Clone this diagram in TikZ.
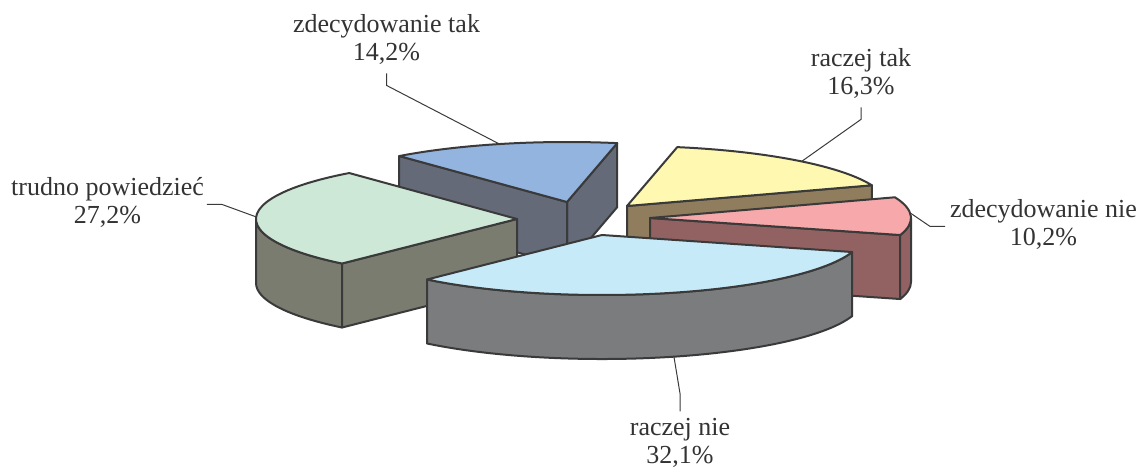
\documentclass[tikz,border=0pt]{standalone}
\usepackage{fontspec}
\setmainfont{Liberation Serif}
\newfontfamily\labelfont{Liberation Serif}
\usetikzlibrary{positioning, calc}

\definecolor{edge}{HTML}{3A3A3A}
\definecolor{labeltext}{HTML}{333333}
\definecolor{bluetop}{HTML}{94B4E0}
\definecolor{blueside}{HTML}{646A78}
\definecolor{yellowtop}{HTML}{FFF8B0}
\definecolor{yellowside}{HTML}{8F7D5E}
\definecolor{greentop}{HTML}{CDE8D6}
\definecolor{greenside}{HTML}{7B7C70}
\definecolor{pinktop}{HTML}{F6A8AA}
\definecolor{pinkside}{HTML}{926263}
\definecolor{skytop}{HTML}{C7EAF9}
\definecolor{skyside}{HTML}{7B7C7E}

\begin{document}
\begin{tikzpicture}[x=0.5pt,y=0.5pt,
    every node/.style={inner sep=0,outer sep=0,text=labeltext,
      font=\labelfont\fontsize{13}{14}\selectfont},
    slice/.style={draw=edge,line width=1pt,line join=round},
    rim/.style={x radius=261,y radius=60},
    leader/.style={draw=edge,line width=0.5pt}]
  \useasboundingbox (0,0) rectangle (1142,467);

  % centres of the slices
  \coordinate (cb) at (567,265);
  \coordinate (cy) at (627,261);
  \coordinate (cg) at (517,248);
  \coordinate (cp) at (650,249);
  \coordinate (cs) at (602,232);

  % zdecydowanie tak
  \draw[slice,fill=blueside] (cb) -- ($(cb)+(78.9:261 and 60)$) -- ++(0,-64) -- ($(cb)+(0,-64)$) -- cycle;
  \draw[slice,fill=blueside] (cb) -- ($(cb)+(130:261 and 60)$) -- ++(0,-64) -- ($(cb)+(0,-64)$) -- cycle;
  \draw[slice,fill=bluetop] (cb) -- ($(cb)+(78.9:261 and 60)$) arc[rim,start angle=78.9,end angle=130] -- cycle;

  % raczej tak
  \draw[slice,fill=yellowside] (cy) -- ($(cy)+(20.2:261 and 60)$) -- ++(0,-64) -- ($(cy)+(0,-64)$) -- cycle;
  \draw[slice,fill=yellowtop] (cy) -- ($(cy)+(20.2:261 and 60)$) arc[rim,start angle=20.2,end angle=78.9] -- cycle;

  % trudno powiedziec
  \draw[slice,fill=greenside] ($(cg)+(180:261 and 60)$) arc[rim,start angle=180,end angle=227.9]
    -- ++(0,-64) arc[rim,start angle=227.9,end angle=180] -- cycle;
  \draw[slice,fill=greenside] (cg) -- ($(cg)+(227.9:261 and 60)$) -- ++(0,-64) -- ($(cg)+(0,-64)$) -- cycle;
  \draw[slice,fill=greentop] (cg) -- ($(cg)+(130:261 and 60)$) arc[rim,start angle=130,end angle=227.9] -- cycle;

  % zdecydowanie nie
  \draw[slice,fill=pinkside] (cp) -- ($(cp)+(343.5:261 and 60)$) -- ++(0,-64) -- ($(cp)+(0,-64)$) -- cycle;
  \draw[slice,fill=pinkside] ($(cp)+(343.5:261 and 60)$) arc[rim,start angle=343.5,end angle=360]
    -- ++(0,-64) arc[rim,start angle=360,end angle=343.5] -- cycle;
  \draw[slice,fill=pinktop] (cp) -- ($(cp)+(343.5:261 and 60)$) arc[rim,start angle=343.5,end angle=380.2] -- cycle;

  % raczej nie
  \draw[slice,fill=skyside] ($(cs)+(227.9:261 and 60)$) arc[rim,start angle=227.9,end angle=343.5]
    -- ++(0,-64) arc[rim,start angle=343.5,end angle=227.9] -- cycle;
  \draw[slice,fill=skytop] (cs) -- ($(cs)+(227.9:261 and 60)$) arc[rim,start angle=227.9,end angle=343.5] -- cycle;

  % where the leaders touch the slices
  \coordinate (zt end) at ($(cb)+(105:261 and 60)$);
  \coordinate (rt end) at ($(cy)+(48:261 and 60)$);
  \coordinate (zn end) at ($(cp)+(5:261 and 60)$);
  \coordinate (tp end) at ($(cg)+(178:261 and 60)$);
  \coordinate (rn end) at ($(cs)+(286:261 and 60)+(0,-64)$);

  % labels
  \node(zt) at (386.5,439.6){zdecydowanie tak\strut};
  \node(ztp)[below=0mm of zt]{14,2\%\strut};
  \node(rt) at (861,405.6){raczej tak\strut};
  \node(rtp)[below=0mm of rt]{16,3\%\strut};
  \node(zn)[anchor=west] at (950,254.6){zdecydowanie nie\strut};
  \node(znp)[below=0mm of zn]{10,2\%\strut};
  \node(tp) at (107.5,276.6){trudno powiedzieć\strut};
  \node(tpp)[below=0mm of tp]{27,2\%\strut};
  \node(rn) at (680,37.6){raczej nie\strut};
  \node(rnp)[below=0mm of rn]{32,1\%\strut};

  \draw[leader]([yshift=-2pt]ztp.south) -- ++(0,-12) -- (zt end);
  \draw[leader]([yshift=-2pt]rtp.south) -- ++(0,-12) -- (rt end);
  \draw[leader]([xshift=-2.5pt]zn.south west) -- ++(-15,0) -- (zn end);
  \draw[leader]([xshift=1.5pt]tp.south east) -- ++(15,0) -- (tp end);
  \draw[leader]([yshift=2pt]rn.north) -- ++(0,18) -- (rn end);
\end{tikzpicture}
\end{document}
